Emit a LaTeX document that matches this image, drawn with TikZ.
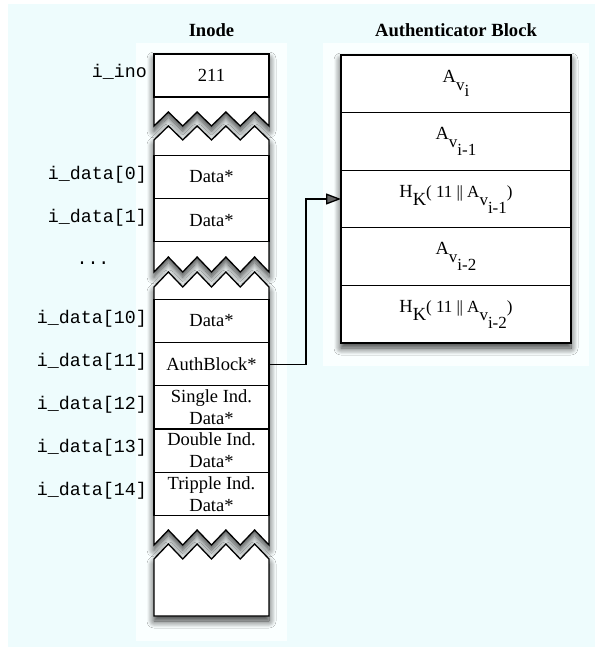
\documentclass[tikz,border=0pt]{standalone}
\usepackage{fontspec}
\setmainfont{Liberation Serif}
\setmonofont{Liberation Mono}
\usetikzlibrary{positioning}
\usetikzlibrary{arrows.meta}
\usetikzlibrary{shadows.blur}

\definecolor{bgcyan}{RGB}{238,252,253}
\definecolor{panelwhite}{RGB}{250,255,255}

% lowered text for the nested indices
\newcommand\dn[2][8pt]{\raisebox{-#1}{#2}}
\newcommand\subfont{\fontsize{17}{19}\selectfont}

\begin{document}
\begin{tikzpicture}[x=1pt,y=-1pt,%
  cell/.style={draw,line width=1.3pt,minimum width=115pt,%
    minimum height=43.2pt,inner sep=0pt,outer sep=0pt,align=center,%
    font=\fontsize{18.5}{22}\selectfont},
  authcell/.style={cell,minimum width=230pt,minimum height=57.6pt},
  slot/.style={anchor=base east,inner sep=0pt,%
    font=\ttfamily\fontsize{18.3}{20}\selectfont},
  title/.style={font=\bfseries\fontsize{18.6}{20}\selectfont},
  piece/.style={draw,line width=1.3pt,fill=white,%
    blur shadow={shadow xshift=0pt,shadow yshift=-5pt,%
      shadow blur radius=7pt,shadow blur steps=10,shadow opacity=80}}]
  \useasboundingbox (0,0) rectangle (595,648);
  \fill[bgcyan] (8,4) rectangle (595,647);
  \fill[panelwhite] (136,43) rectangle (287,641);
  \fill[panelwhite] (323,43) rectangle (589,366);

  \node[title] (tinode) at (211.5,30) {Inode};
  \node[title] (tauth)  at (456,30)   {Authenticator Block};

  % inode column, cut in four pieces
  \draw[piece] (154,54) -- (269,54) -- (269,126)
    \foreach \k in {1,...,4} { -- ++(-14.375,-14) -- ++(-14.375,14) } -- cycle;
  \draw[piece] (154,140)
    \foreach \k in {1,...,4} { -- ++(14.375,-14) -- ++(14.375,14) }
    -- (269,272)
    \foreach \k in {1,...,4} { -- ++(-14.375,-15) -- ++(-14.375,15) } -- cycle;
  \draw[piece] (154,287)
    \foreach \k in {1,...,4} { -- ++(14.375,-15) -- ++(14.375,15) }
    -- (269,545)
    \foreach \k in {1,...,4} { -- ++(-14.375,-15) -- ++(-14.375,15) } -- cycle;
  \draw[piece] (154,559)
    \foreach \k in {1,...,4} { -- ++(14.375,-15) -- ++(14.375,15) }
    -- (269,616) -- (154,616) -- cycle;

  \node[cell] (ino) at (211.5,75.5) {211};
  \node[cell] (d0)  at (211.5,177)  {Data*};
  \node[cell] (d1)  [below=0pt of d0]  {Data*};
  \node[cell] (d10) at (211.5,321)  {Data*};
  \node[cell] (d11) [below=0pt of d10] {AuthBlock*};
  \node[cell] (d12) [below=0pt of d11] {Single Ind.\\Data*};
  \node[cell] (d13) [below=0pt of d12] {Double Ind.\\Data*};
  \node[cell] (d14) [below=0pt of d13] {Tripple Ind.\\Data*};

  \node[slot] (lino) at ([xshift=-7pt,yshift=-1.5pt]ino.west) {i\_ino};
  \node[slot] (l0)   at ([xshift=-7pt,yshift=-2pt]d0.west)    {i\_data[0]};
  \node[slot] (l1)   at ([xshift=-7pt,yshift=-2pt]d1.west)    {i\_data[1]};
  \node[slot,anchor=base] (ldots) at (93,264) {...};
  \node[slot] (l10)  at ([xshift=-7pt,yshift=-2pt]d10.west)   {i\_data[10]};
  \node[slot] (l11)  at ([xshift=-7pt,yshift=-2pt]d11.west)   {i\_data[11]};
  \node[slot] (l12)  at ([xshift=-7pt,yshift=-2pt]d12.west)   {i\_data[12]};
  \node[slot] (l13)  at ([xshift=-7pt,yshift=-2pt]d13.west)   {i\_data[13]};
  \node[slot] (l14)  at ([xshift=-7pt,yshift=-2pt]d14.west)   {i\_data[14]};

  % authenticator block
  \path[piece] (341,55) rectangle (571,343);
  \node[authcell] (av0) at (456,83.8) {A\dn{\subfont v\dn[6pt]{i}}};
  \node[authcell] (av1) [below=0pt of av0] {A\dn{\subfont v\dn{i-1}}};
  \node[authcell] (hk1) [below=0pt of av1]
    {H\dn{K}{\subfont( 11 |\kern-.5pt| A\dn{v\dn{i-1}})}};
  \node[authcell] (av2) [below=0pt of hk1] {A\dn{\subfont v\dn{i-2}}};
  \node[authcell] (hk2) [below=0pt of av2]
    {H\dn{K}{\subfont( 11 |\kern-.5pt| A\dn{v\dn{i-2}})}};

  \draw[line width=1.3pt,-{Triangle[length=15pt,width=11pt]}]
    (d11.east) -- ++(37,0) |- (hk1.west);
\end{tikzpicture}
\end{document}
